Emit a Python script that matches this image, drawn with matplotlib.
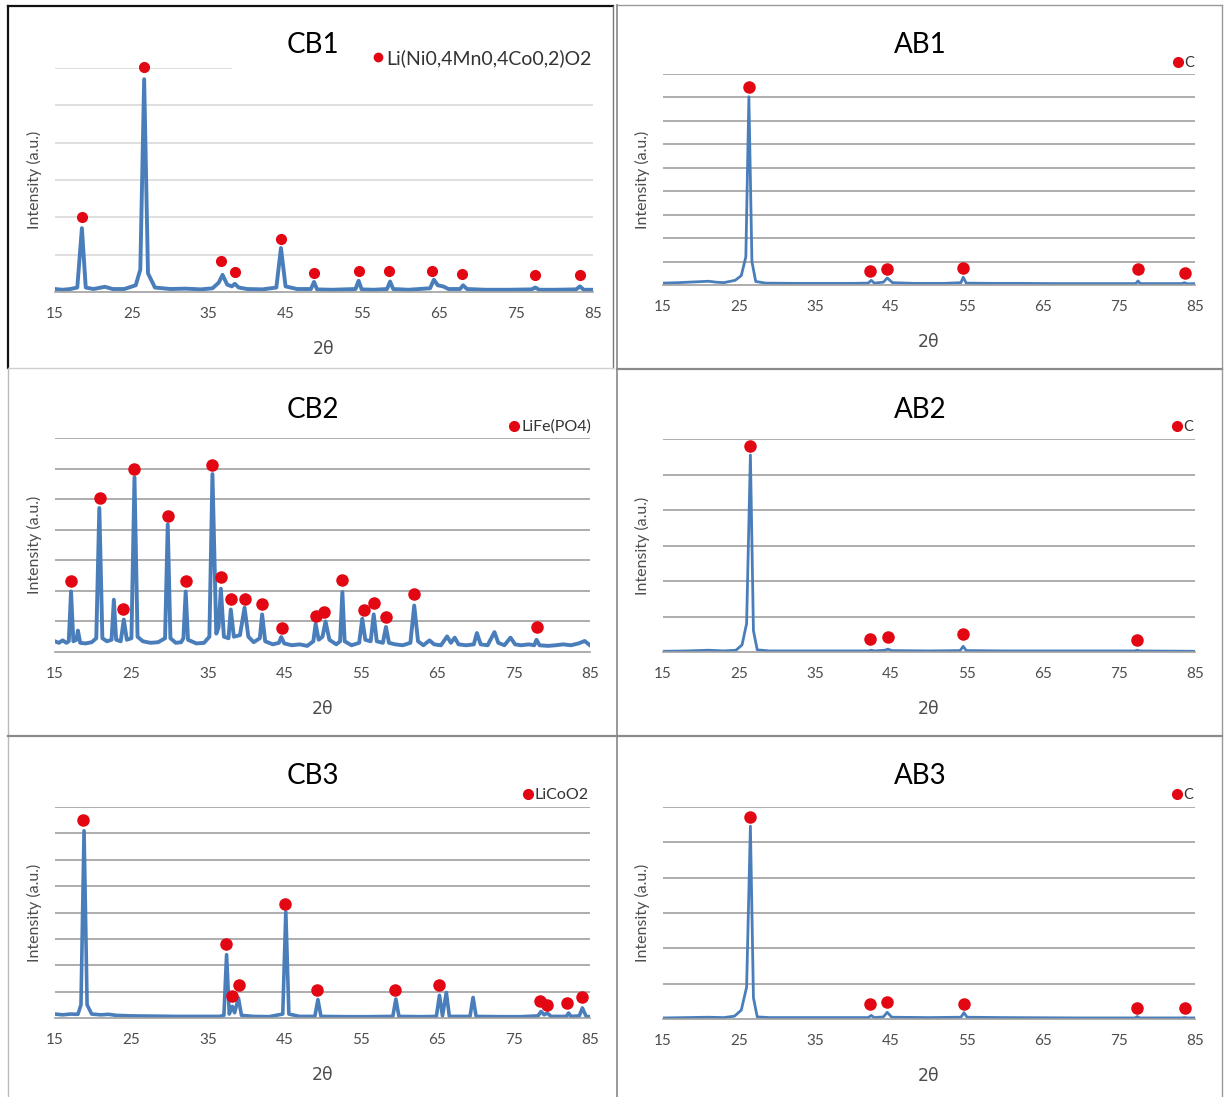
import matplotlib
matplotlib.use("Agg")
import matplotlib.pyplot as plt
from matplotlib.lines import Line2D

plt.rcParams['font.family'] = ['Lato', 'DejaVu Sans']

# XRD traces (2theta, intensity in gridline units)
cb1_trace = [(15.0, 0.08), (16.0, 0.06), (17.0, 0.08), (17.9, 0.12), (18.5, 1.71), (19.0, 0.12),
             (20.0, 0.08), (21.5, 0.14), (22.5, 0.08), (24.0, 0.08), (25.5, 0.18), (26.1, 0.6),
             (26.6, 5.7), (27.1, 0.5), (28.0, 0.12), (30.0, 0.08), (32.0, 0.09), (34.0, 0.07),
             (35.5, 0.1), (36.3, 0.25), (36.8, 0.46), (37.4, 0.2), (38.0, 0.15), (38.4, 0.22),
             (38.9, 0.12), (40.0, 0.08), (42.0, 0.07), (43.8, 0.12), (44.4, 1.18), (45.0, 0.15),
             (46.5, 0.08), (48.3, 0.08), (48.7, 0.27), (49.1, 0.07), (51.0, 0.06), (54.1, 0.08),
             (54.5, 0.3), (54.9, 0.07), (56.5, 0.06), (58.2, 0.08), (58.6, 0.28), (59.0, 0.08),
             (61.0, 0.06), (63.8, 0.1), (64.3, 0.33), (64.8, 0.18), (65.5, 0.15), (66.2, 0.08),
             (67.7, 0.08), (68.1, 0.18), (68.6, 0.08), (71.0, 0.06), (74.0, 0.06), (77.0, 0.07),
             (77.5, 0.12), (78.0, 0.06), (80.0, 0.06), (82.8, 0.07), (83.3, 0.15), (83.8, 0.06),
             (85.0, 0.06)]
cb1_peaks_x = [18.5, 26.6, 36.6, 38.4, 44.4, 48.65, 54.5, 58.5, 64.1, 68.0, 77.45, 83.3]
cb1_peaks_y = [2.0, 6.04, 0.83, 0.53, 1.41, 0.51, 0.55, 0.55, 0.57, 0.49, 0.46, 0.45]

cb2_trace = [(15.0, 0.35), (15.5, 0.3), (16.0, 0.38), (16.5, 0.3), (16.8, 0.35), (17.1, 1.98),
             (17.4, 0.35), (17.8, 0.4), (18.0, 0.7), (18.3, 0.3), (19.0, 0.28), (19.8, 0.32),
             (20.4, 0.45), (20.8, 4.71), (21.2, 0.45), (21.8, 0.35), (22.4, 0.4), (22.7, 1.71),
             (23.0, 0.4), (23.6, 0.35), (24.0, 1.06), (24.4, 0.4), (25.0, 0.45), (25.4, 5.71),
             (25.8, 0.5), (26.5, 0.35), (27.5, 0.3), (28.5, 0.32), (29.4, 0.45), (29.75, 4.17),
             (30.1, 0.45), (30.8, 0.3), (31.5, 0.32), (31.8, 0.45), (32.1, 1.98), (32.4, 0.4),
             (33.5, 0.28), (34.5, 0.3), (35.2, 0.5), (35.6, 5.82), (36.1, 0.6), (36.4, 0.8),
             (36.7, 2.07), (37.1, 0.5), (37.7, 0.45), (38.0, 1.39), (38.4, 0.5), (39.2, 0.55),
             (39.8, 1.45), (40.3, 0.5), (41.0, 0.32), (41.8, 0.45), (42.1, 1.23), (42.5, 0.35),
             (43.5, 0.25), (44.3, 0.3), (44.6, 0.49), (45.0, 0.28), (46.0, 0.22), (47.0, 0.25),
             (48.0, 0.2), (48.8, 0.35), (49.1, 0.92), (49.5, 0.4), (50.0, 0.5), (50.4, 1.0),
             (50.9, 0.4), (51.8, 0.25), (52.3, 0.35), (52.6, 1.96), (52.9, 0.35), (53.8, 0.22),
             (54.8, 0.3), (55.2, 1.09), (55.6, 0.4), (56.3, 0.35), (56.7, 1.23), (57.1, 0.35),
             (57.9, 0.3), (58.3, 0.82), (58.7, 0.3), (59.5, 0.25), (60.5, 0.22), (61.5, 0.3),
             (62.0, 1.52), (62.5, 0.35), (63.2, 0.22), (64.0, 0.38), (64.6, 0.25), (65.5, 0.22),
             (66.3, 0.51), (66.8, 0.3), (67.3, 0.47), (67.8, 0.25), (68.8, 0.22), (69.8, 0.25),
             (70.2, 0.62), (70.7, 0.25), (71.6, 0.22), (72.5, 0.65), (73.0, 0.3), (73.8, 0.22),
             (74.6, 0.47), (75.2, 0.25), (76.0, 0.22), (77.0, 0.25), (77.7, 0.22), (78.0, 0.40),
             (78.4, 0.22), (79.5, 0.2), (80.5, 0.22), (81.5, 0.25), (82.5, 0.22), (83.5, 0.28),
             (84.3, 0.36), (85.0, 0.22)]
cb2_peaks_x = [17.15, 20.84, 23.96, 25.34, 29.8, 32.1, 35.6, 36.7, 38.0, 39.8, 42.1, 44.7,
               49.15, 50.2, 52.5, 55.45, 56.8, 58.3, 62.0, 78.0]
cb2_peaks_y = [2.32, 5.03, 1.40, 5.97, 4.44, 2.33, 6.12, 2.45, 1.73, 1.73, 1.58, 0.78,
               1.18, 1.32, 2.36, 1.39, 1.61, 1.14, 1.90, 0.82]

cb3_trace = [(15.0, 0.15), (16.0, 0.12), (17.0, 0.15), (18.0, 0.14), (18.4, 0.5), (18.8, 7.1),
             (19.2, 0.5), (19.8, 0.15), (21.0, 0.12), (22.0, 0.14), (23.0, 0.1), (25.0, 0.08),
             (28.0, 0.07), (31.0, 0.06), (34.0, 0.06), (36.5, 0.06), (37.1, 0.1), (37.45, 2.4),
             (37.8, 0.15), (38.2, 0.44), (38.5, 0.2), (39.0, 0.76), (39.4, 0.1), (41.0, 0.06),
             (43.0, 0.05), (44.8, 0.15), (45.2, 4.02), (45.6, 0.15), (47.0, 0.06), (49.0, 0.06),
             (49.4, 0.7), (49.8, 0.06), (53.0, 0.05), (56.0, 0.05), (59.2, 0.06), (59.6, 0.72),
             (60.0, 0.06), (63.0, 0.05), (64.9, 0.06), (65.3, 0.86), (65.7, 0.08), (66.2, 0.97),
             (66.6, 0.06), (69.3, 0.06), (69.7, 0.78), (70.1, 0.06), (73.0, 0.05), (76.0, 0.05),
             (78.2, 0.08), (78.6, 0.25), (79.0, 0.12), (79.4, 0.19), (79.9, 0.06), (81.9, 0.06),
             (82.2, 0.19), (82.5, 0.06), (83.6, 0.08), (84.0, 0.38), (84.5, 0.06), (85.0, 0.05)]
cb3_peaks_x = [18.7, 37.4, 38.15, 39.1, 45.1, 49.3, 59.5, 65.2, 78.5, 79.4, 82.0, 84.0]
cb3_peaks_y = [7.51, 2.81, 0.82, 1.24, 4.34, 1.06, 1.06, 1.26, 0.63, 0.51, 0.57, 0.80]

ab1_trace = [(15.0, 0.08), (17.0, 0.1), (19.0, 0.13), (21.0, 0.16), (22.0, 0.12), (23.0, 0.1),
             (24.5, 0.2), (25.3, 0.4), (25.9, 1.2), (26.3, 8.03), (26.7, 1.0), (27.2, 0.15),
             (28.5, 0.08), (32.0, 0.07), (36.0, 0.07), (40.0, 0.07), (42.0, 0.08), (42.4, 0.2),
             (42.8, 0.08), (44.0, 0.12), (44.5, 0.3), (45.2, 0.1), (48.0, 0.07), (52.0, 0.07),
             (54.2, 0.1), (54.5, 0.33), (54.9, 0.08), (58.0, 0.07), (62.0, 0.07), (66.0, 0.06),
             (70.0, 0.06), (75.0, 0.06), (77.2, 0.06), (77.5, 0.17), (77.8, 0.06), (81.0, 0.06),
             (83.3, 0.06), (83.6, 0.1), (84.0, 0.05), (85.0, 0.06)]
ab1_peaks_x = [26.3, 42.3, 44.5, 54.5, 77.5, 83.7]
ab1_peaks_y = [8.45, 0.6, 0.67, 0.71, 0.67, 0.53]

ab2_trace = [(15.0, 0.02), (18.0, 0.03), (21.0, 0.05), (23.0, 0.03), (24.6, 0.05), (25.4, 0.2),
             (26.0, 0.8), (26.5, 5.55), (26.9, 0.6), (27.4, 0.06), (29.0, 0.03), (35.0, 0.03),
             (42.0, 0.03), (42.4, 0.05), (42.8, 0.03), (44.2, 0.05), (44.6, 0.08), (45.1, 0.04),
             (50.0, 0.03), (54.1, 0.04), (54.5, 0.16), (54.9, 0.04), (60.0, 0.03), (70.0, 0.03),
             (77.1, 0.03), (77.4, 0.05), (77.7, 0.03), (85.0, 0.02)]
ab2_peaks_x = [26.5, 42.3, 44.6, 54.5, 77.4]
ab2_peaks_y = [5.80, 0.38, 0.42, 0.50, 0.35]

ab3_trace = [(15.0, 0.03), (18.0, 0.04), (21.0, 0.05), (23.0, 0.04), (24.4, 0.08), (25.3, 0.25),
             (26.0, 0.9), (26.5, 5.46), (26.9, 0.6), (27.4, 0.06), (29.0, 0.04), (35.0, 0.04),
             (42.0, 0.04), (42.4, 0.1), (42.8, 0.04), (44.0, 0.06), (44.5, 0.19), (45.1, 0.05),
             (50.0, 0.04), (54.2, 0.05), (54.6, 0.18), (55.0, 0.05), (60.0, 0.04), (70.0, 0.03),
             (77.1, 0.03), (77.4, 0.07), (77.7, 0.03), (83.3, 0.03), (83.6, 0.04), (84.0, 0.03),
             (85.0, 0.03)]
ab3_peaks_x = [26.5, 42.3, 44.5, 54.6, 77.4, 83.7]
ab3_peaks_y = [5.73, 0.43, 0.47, 0.43, 0.32, 0.32]

titles = ["CB1", "AB1", "CB2", "AB2", "CB3", "AB3"]
phases = ["Li(Ni0,4Mn0,4Co0,2)O2", "C", "LiFe(PO4)", "C", "LiCoO2", "C"]
xticks = [15, 25, 35, 45, 55, 65, 75, 85]

W, H = 1226, 1097
BLUE = '#4A7EBB'
RED = '#E30613'
GREY_TXT = '#4d4d4d'

fig = plt.figure(figsize=(W / 100, H / 100), dpi=100)
fig.patch.set_facecolor('white')


def px_axes(left, right, top, bottom):
    return fig.add_axes([left / W, 1 - bottom / H, (right - left) / W, (bottom - top) / H])


def fig_line(x0, y0, x1, y1, color, lw):
    fig.add_artist(Line2D([x0 / W, x1 / W], [1 - y0 / H, 1 - y1 / H],
                          transform=fig.transFigure, color=color, lw=lw))


# panel boxes
fig_line(8, 6, 613, 6, '#111111', 1.6)
fig_line(8, 6, 8, 368, '#111111', 1.6)
fig_line(613, 6, 613, 368, '#777777', 1.0)
fig_line(617, 5, 1222, 5, '#999999', 1.0)
fig_line(617, 5, 617, 1097, '#999999', 1.4)
fig_line(1222, 5, 1222, 1097, '#999999', 1.0)
fig_line(8, 368, 613, 368, '#cfcfcf', 1.0)
fig_line(617, 369, 1222, 369, '#8a8a8a', 1.6)
fig_line(8, 368, 8, 1097, '#bbbbbb', 1.0)
fig_line(8, 736, 1222, 736, '#8a8a8a', 1.6)

# (trace, peak x, peak y, axes box in px, gridline count, grid colour, line width, marker size,
#  title pos, legend right edge/centre, legend size, ylabel x px)
panels = [
    (cb1_trace, cb1_peaks_x, cb1_peaks_y, (55, 593, 68, 292), 6, '#d9d9d9', 2.8, 7.0,
     (313, 45), (592, 58), 14.0, 42),
    (ab1_trace, ab1_peaks_x, ab1_peaks_y, (663, 1195, 74, 285), 9, '#a0a0a0', 2.0, 8.0,
     (920, 45), (1194, 63), 10.5, 650),
    (cb2_trace, cb2_peaks_x, cb2_peaks_y, (55, 590, 438, 652), 7, '#a0a0a0', 2.8, 8.0,
     (313, 410), (591, 427), 11.5, 42),
    (ab2_trace, ab2_peaks_x, ab2_peaks_y, (663, 1195, 439, 652), 6, '#a0a0a0', 2.0, 8.0,
     (920, 410), (1193, 427), 10.5, 650),
    (cb3_trace, cb3_peaks_x, cb3_peaks_y, (55, 590, 807, 1018), 8, '#a0a0a0', 2.6, 8.0,
     (313, 776), (589, 795), 11.5, 42),
    (ab3_trace, ab3_peaks_x, ab3_peaks_y, (663, 1195, 807, 1019), 6, '#a0a0a0', 2.0, 8.0,
     (920, 776), (1193, 795), 10.5, 650),
]

for i, (trace, px_, py_, box, ngrid, gcol, lw, ms, tpos, lpos, lsize, ylx) in enumerate(panels):
    left, right, top, bottom = box
    ax = px_axes(left, right, top, bottom)
    ax.set_xlim(15, 85)
    ax.set_ylim(0, ngrid)
    for s in ['top', 'right', 'left']:
        ax.spines[s].set_visible(False)
    ax.spines['bottom'].set_color('#a0a0a0')
    ax.spines['bottom'].set_linewidth(1.2)

    for g in range(1, ngrid + 1):
        xmax = 38.0 if (i == 0 and g == ngrid) else 85
        ax.hlines(g, 15, xmax, color=gcol, lw=1.2, zorder=0)

    tx = [p[0] for p in trace]
    ty = [p[1] for p in trace]
    ax.plot(tx, ty, color=BLUE, lw=lw, solid_joinstyle='round', zorder=2)
    ax.plot(px_, py_, 'o', color=RED, ms=ms, mec=RED, clip_on=False, zorder=3)

    ax.set_xticks(xticks)
    ax.set_yticks([])
    ax.tick_params(axis='x', length=0, pad=11, labelsize=11, labelcolor=GREY_TXT)
    ax.set_xlabel("2θ", fontsize=12.5, color=GREY_TXT, family=['DejaVu Sans'])
    ax.xaxis.set_label_coords(0.5, -48 / (bottom - top))
    ax.set_ylabel("Intensity (a.u.)", fontsize=11.5, color=GREY_TXT)
    ax.yaxis.set_label_coords((ylx - left) / (right - left), 0.5)

    fig.text(tpos[0] / W, 1 - tpos[1] / H, titles[i], fontsize=20, ha='center', va='center',
             color='black')

    leg_ms = 6 if i == 0 else 7
    ax.legend([Line2D([], [], ls='none', marker='o', color=RED, ms=leg_ms)], [phases[i]],
              loc='center right', bbox_to_anchor=(lpos[0] / W, 1 - lpos[1] / H),
              bbox_transform=fig.transFigure, frameon=False, fontsize=lsize,
              handlelength=0.6, handletextpad=0.15, borderpad=0, borderaxespad=0,
              labelcolor='#333333')

fig.savefig("out.png", dpi=100, facecolor='white')
